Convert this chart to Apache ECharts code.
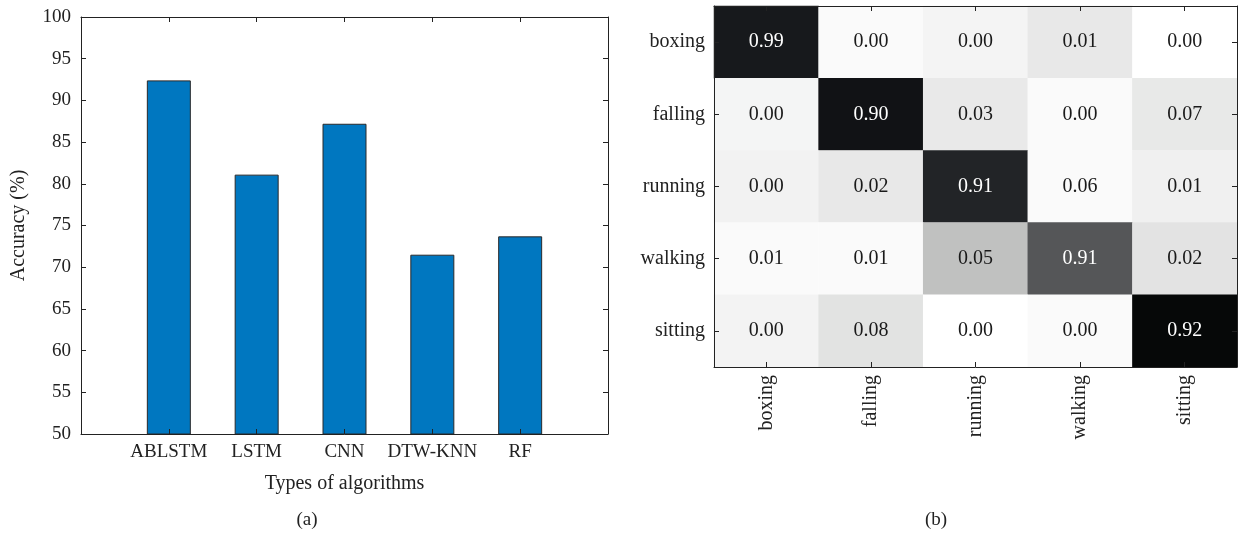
<!DOCTYPE html>
<html>
<head>
<meta charset="utf-8">
<script src="https://cdn.jsdelivr.net/npm/echarts@6/dist/echarts.min.js"></script>
<style>
  html, body { margin: 0; padding: 0; background: #ffffff; }
  #chart { width: 1238px; height: 535px; }
</style>
</head>
<body>
<div id="chart"></div>
<script>
// (a) accuracy of each algorithm
const algorithms = ['ABLSTM', 'LSTM', 'CNN', 'DTW-KNN', 'RF'];
const accuracy = [92.4, 81.1, 87.2, 71.5, 73.7];
const accuracyTicks = { min: 50, max: 100, interval: 5 };

// (b) confusion matrix of the activities (rows: true class, columns: predicted)
const activities = ['boxing', 'falling', 'running', 'walking', 'sitting'];
const confusion = [
  [0.99, 0.00, 0.00, 0.01, 0.00],
  [0.00, 0.90, 0.03, 0.00, 0.07],
  [0.00, 0.02, 0.91, 0.06, 0.01],
  [0.01, 0.01, 0.05, 0.91, 0.02],
  [0.00, 0.08, 0.00, 0.00, 0.92]
];

// grey shade of each matrix cell
const cellShade = [
  ['#17191c', '#fafafa', '#f4f4f4', '#e8e8e8', '#ffffff'],
  ['#f4f5f5', '#111215', '#e9e9e9', '#fafafa', '#e8e9e8'],
  ['#f2f2f2', '#e8e8e8', '#222427', '#fafafa', '#f0f0f0'],
  ['#fafafa', '#fafafa', '#c0c1c0', '#555658', '#e3e3e3'],
  ['#f3f3f3', '#e2e3e2', '#ffffff', '#fafafa', '#060808']
];

const FONT = "'Liberation Serif', 'DejaVu Serif', serif";
const INK = '#222222';

// bars sit between an empty slot on each side of the axis
const barCats = [''].concat(algorithms, ['']);
const barVals = ['-'].concat(accuracy, ['-']);

const heatData = [];
confusion.forEach((row, r) => {
  row.forEach((v, c) => {
    const shade = cellShade[r][c];
    const dark = parseInt(shade.slice(1, 3), 16) < 0x90;
    heatData.push({
      value: [c, r, v],
      itemStyle: { color: shade },
      label: { color: dark ? '#ffffff' : '#1a1a1a' }
    });
  });
});

const frameLine = { show: true, lineStyle: { color: INK, width: 1 } };
const innerTick = { show: true, inside: true, length: 5, lineStyle: { color: INK } };

const chart = echarts.init(document.getElementById('chart'), null, { renderer: 'canvas' });
chart.setOption({
  animation: false,
  textStyle: { fontFamily: FONT },
  grid: [
    { left: 81, right: 630, top: 17, bottom: 101 },
    { left: 714, right: 1, top: 6, bottom: 168 }
  ],
  xAxis: [
    {
      gridIndex: 0, type: 'category', data: barCats, boundaryGap: false, position: 'bottom', z: 5,
      axisLine: frameLine, axisTick: innerTick,
      axisLabel: { fontFamily: FONT, fontSize: 19, color: INK, margin: 9, interval: 0 },
      name: 'Types of algorithms', nameLocation: 'middle', nameGap: 40,
      nameTextStyle: { fontFamily: FONT, fontSize: 20, color: INK }
    },
    {
      gridIndex: 0, type: 'category', data: barCats, boundaryGap: false, position: 'top', z: 5,
      axisLine: frameLine, axisTick: innerTick, axisLabel: { show: false }
    },
    {
      gridIndex: 1, type: 'category', data: activities, position: 'bottom', z: 5,
      axisLine: frameLine, axisTick: Object.assign({ alignWithLabel: true }, innerTick),
      axisLabel: { fontFamily: FONT, fontSize: 20, color: INK, rotate: 90, margin: 8, interval: 0 }
    },
    {
      gridIndex: 1, type: 'category', data: activities, position: 'top', z: 5,
      axisLine: frameLine, axisTick: Object.assign({ alignWithLabel: true }, innerTick),
      axisLabel: { show: false }
    }
  ],
  yAxis: [
    {
      gridIndex: 0, type: 'value', position: 'left', z: 5,
      min: accuracyTicks.min, max: accuracyTicks.max, interval: accuracyTicks.interval,
      axisLine: frameLine, axisTick: innerTick, splitLine: { show: false },
      axisLabel: { fontFamily: FONT, fontSize: 19, color: INK, margin: 10 },
      name: 'Accuracy (%)', nameLocation: 'middle', nameGap: 52,
      nameTextStyle: { fontFamily: FONT, fontSize: 20, color: INK }
    },
    {
      gridIndex: 0, type: 'value', position: 'right', z: 5,
      min: accuracyTicks.min, max: accuracyTicks.max, interval: accuracyTicks.interval,
      axisLine: frameLine, axisTick: innerTick, splitLine: { show: false },
      axisLabel: { show: false }
    },
    {
      gridIndex: 1, type: 'category', data: activities, inverse: true, position: 'left', z: 5,
      axisLine: frameLine, axisTick: Object.assign({ alignWithLabel: true }, innerTick),
      axisLabel: { fontFamily: FONT, fontSize: 20, color: INK, margin: 9 }
    },
    {
      gridIndex: 1, type: 'category', data: activities, inverse: true, position: 'right', z: 5,
      axisLine: frameLine, axisTick: Object.assign({ alignWithLabel: true }, innerTick),
      axisLabel: { show: false }
    }
  ],
  series: [
    {
      type: 'bar', xAxisIndex: 0, yAxisIndex: 0, data: barVals, barWidth: 44,
      itemStyle: { color: '#0077c0', borderColor: '#2a2a2a', borderWidth: 1 },
      clip: true
    },
    {
      type: 'heatmap', xAxisIndex: 2, yAxisIndex: 2, data: heatData,
      label: {
        show: true, fontFamily: FONT, fontSize: 20,
        formatter: p => p.value[2].toFixed(2)
      },
      itemStyle: { borderWidth: 0 },
      emphasis: { disabled: true }
    }
  ],
  graphic: [
    { type: 'text', x: 307, y: 520, style: { text: '(a)', font: '19px ' + FONT, fill: INK, align: 'center', verticalAlign: 'middle' } },
    { type: 'text', x: 936, y: 520, style: { text: '(b)', font: '19px ' + FONT, fill: INK, align: 'center', verticalAlign: 'middle' } }
  ]
});
</script>
</body>
</html>
